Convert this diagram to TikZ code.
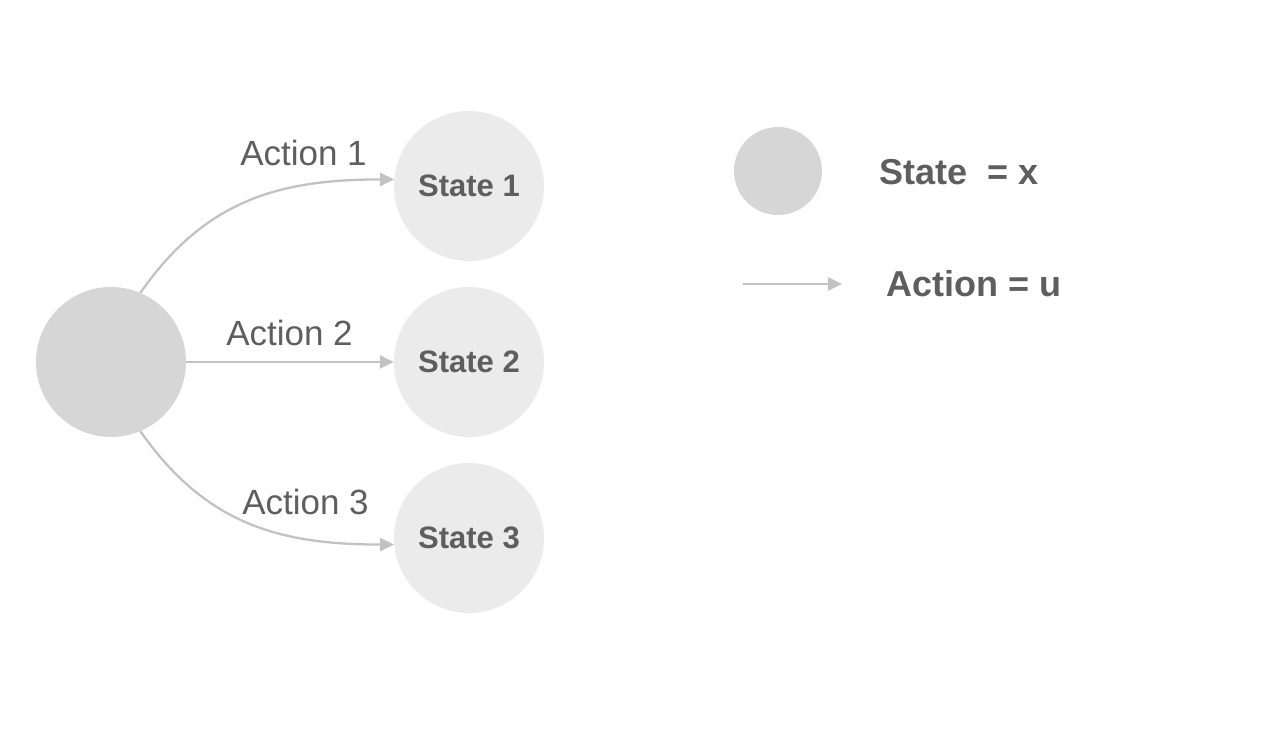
\documentclass[tikz,border=0pt]{standalone}
\usepackage{fontspec}
\setmainfont{Liberation Sans}
\usetikzlibrary{arrows.meta}
\definecolor{txt}{HTML}{5E5E5E}
\definecolor{arr}{HTML}{C2C2C2}
\definecolor{bigfill}{HTML}{D6D6D6}
\definecolor{stfill}{HTML}{EBEBEB}
\tikzset{
  bigstate/.style={circle, fill=bigfill, minimum size=150pt, inner sep=0pt},
  smallstate/.style={circle, fill=stfill, minimum size=150pt, inner sep=0pt, text=txt, font=\fontsize{31}{31}\selectfont\bfseries},
  legstate/.style={circle, fill=bigfill, minimum size=88pt, inner sep=0pt},
  act/.style={draw=arr, line width=2.3pt, -{Triangle[length=14pt,width=13pt]}},
  actlabel/.style={text=txt, font=\fontsize{35}{35}\selectfont, inner sep=0pt},
  leglabel/.style={text=txt, font=\fontsize{36}{36}\selectfont\bfseries, inner sep=0pt, anchor=base west},
}
\begin{document}
\begin{tikzpicture}[x=1pt,y=1pt]
\useasboundingbox (0,0) rectangle (1262,736);
\node[bigstate] (x0) at (111,374) {};
\node[smallstate] (s1) at (469,550) {State 1};
\node[smallstate] (s2) at (469,374) {State 2};
\node[smallstate] (s3) at (469,198) {State 3};
\draw[act] (x0.67) to[out=55,in=180,looseness=1.05] (s1.175);
\draw[act] (x0.east) -- (s2.west);
\draw[act] (x0.-67) to[out=-55,in=180,looseness=1.05] (s3.185);
\node[actlabel, anchor=base] (l1) at (303.5,570) {Action 1};
\node[actlabel, anchor=base] (l2) at (289.5,390) {Action 2};
\node[actlabel, anchor=base] (l3) at (305.5,221) {Action 3};
% legend
\node[legstate] (lx) at (778,565) {};
\node[leglabel] (tx) at (879,551) {State\ \ = x};
\coordinate (la) at (743,452);
\coordinate (lb) at (842,452);
\draw[act] (la) -- (lb);
\node[leglabel] (tu) at (886,439) {Action = u};
\end{tikzpicture}
\end{document}
